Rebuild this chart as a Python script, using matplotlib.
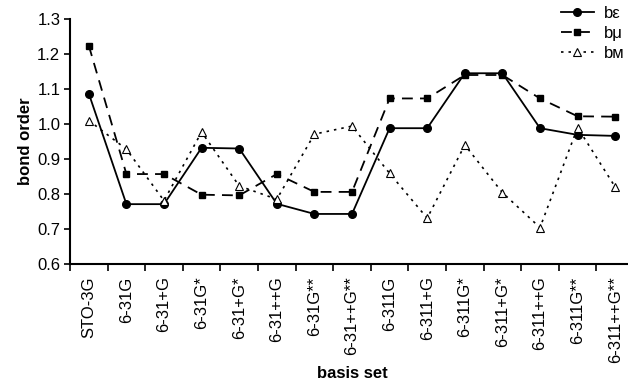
import numpy as np
import matplotlib
matplotlib.use('Agg')
from matplotlib import pyplot as plt
from matplotlib.ticker import FixedLocator

plt.rcParams['font.family'] = ['Liberation Sans', 'DejaVu Sans']

basis = ['STO-3G', '6-31G', '6-31+G', '6-31G*', '6-31+G*', '6-31++G', '6-31G**',
         '6-31++G**', '6-311G', '6-311+G', '6-311G*', '6-311+G*', '6-311++G',
         '6-311G**', '6-311++G**']

b_eps = [1.087, 0.771, 0.771, 0.932, 0.930, 0.772, 0.743, 0.743,
         0.988, 0.988, 1.145, 1.145, 0.988, 0.969, 0.966]
b_mu = [1.224, 0.857, 0.857, 0.798, 0.796, 0.857, 0.806, 0.806,
        1.073, 1.073, 1.140, 1.140, 1.073, 1.022, 1.021]
b_m = [1.010, 0.928, 0.781, 0.977, 0.823, 0.785, 0.971, 0.994,
       0.859, 0.731, 0.940, 0.804, 0.704, 0.990, 0.820]

x = np.arange(len(basis))

fig = plt.figure(figsize=(6.28, 3.85), dpi=100)
ax = fig.add_axes([70 / 628, 121 / 385, 564 / 628, 245 / 385])

ax.plot(x, b_eps, color='black', lw=1.3, marker='o', ms=5.5, label='bε')
ax.plot(x, b_mu, color='black', lw=1.3, ls=(0, (6, 4)), marker='s', ms=4.5,
        label='bμ')
ax.plot(x, b_m, color='black', lw=1.2, ls=(0, (1.5, 3)), marker='^', ms=6,
        mfc='white', mew=0.8, label='bм')

ax.set_xlim(-0.5, len(basis) - 0.5)
ax.set_ylim(0.6, 1.3)
ax.set_yticks(np.arange(0.6, 1.31, 0.1))
ax.set_yticklabels(['%.1f' % v for v in np.arange(0.6, 1.31, 0.1)], fontsize=12)

ax.set_xticks(x)
ax.set_xticklabels(basis, rotation=90, fontsize=12)
ax.tick_params(axis='x', which='major', length=0, pad=9)
ax.xaxis.set_minor_locator(FixedLocator(np.arange(-0.5, len(basis), 1.0)))
ax.tick_params(axis='x', which='minor', length=5, width=1.2, direction='out')
ax.tick_params(axis='y', length=4, width=1.2, direction='out', pad=3)

for s in ['top', 'right']:
    ax.spines[s].set_visible(False)
for s in ['left', 'bottom']:
    ax.spines[s].set_linewidth(1.5)

ax.set_ylabel('bond order', fontsize=12, fontweight='bold', labelpad=3)
ax.set_xlabel('basis set', fontsize=12, fontweight='bold', labelpad=2)

leg = ax.legend(loc='upper right', bbox_to_anchor=(0.995, 1.08), frameon=False,
                fontsize=12, handlelength=2.0, handletextpad=0.6,
                labelspacing=0.3, borderaxespad=0.0)

fig.savefig('out.png', dpi=100)
